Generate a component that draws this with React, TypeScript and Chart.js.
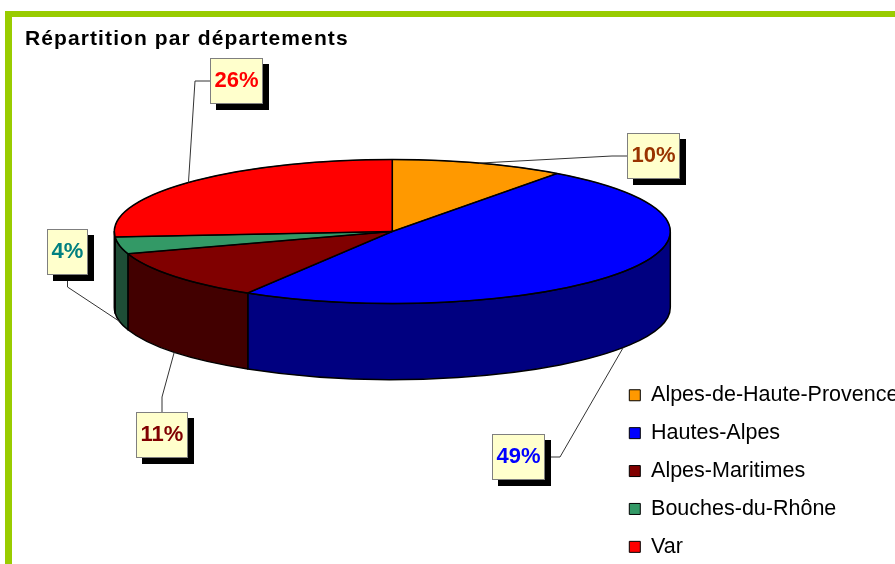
import React, { useEffect, useRef } from 'react';
import { Chart, registerables } from 'chart.js';

Chart.register(...registerables);

// ---- data ----
const categories = ['Alpes-de-Haute-Provence', 'Hautes-Alpes', 'Alpes-Maritimes', 'Bouches-du-Rhône', 'Var'];
const shares = [10.1, 48.6, 11.3, 3.8, 26.2];
const chartTitle = 'Répartition par départements';

// ---- styles ----
const topColors = ['#FF9900', '#0000FF', '#800000', '#339966', '#FF0000'];
const sideColors = ['#995C00', '#000080', '#420000', '#1E4D36', '#990000'];
const labelColors = ['#993300', '#0000FF', '#800000', '#008080', '#FF0000'];
// label box centre offset from its slice anchor, and side of the box the leader line leaves from
const labelOffsets = [[174, -7], [-105, 109], [-12, 83], [-52, -69], [48, -102]];
const leaderSides = ['left', 'right', 'top', 'bottom', 'left'];

const FONT = '"Liberation Sans", Arial, Helvetica, sans-serif';
const TILT = 72 / 278;
const DEPTH = 76;
const CANVAS_TOP = -111;
const CANVAS_W = 895;
const CANVAS_H = 685;

const pie3d = {
  id: 'pie3d',
  beforeDatasetsDraw(chart: any) {
    const meta = chart.getDatasetMeta(0);
    const arcs = meta.data;
    const ctx = chart.ctx;
    chart.$pie3dSaved = false;
    if (!arcs.length) return;
    const cx = arcs[0].x, cy = arcs[0].y, r = arcs[0].outerRadius;
    const ry = r * TILT;
    ctx.save();
    ctx.lineWidth = 1.5;
    ctx.strokeStyle = '#000';
    ctx.lineJoin = 'round';
    arcs.forEach((arc: any, i: number) => {
      const a = Math.max(arc.startAngle, 0);
      const b = Math.min(arc.endAngle, Math.PI);
      if (b <= a) return;
      ctx.beginPath();
      ctx.ellipse(cx, cy, r, ry, 0, a, b, false);
      ctx.ellipse(cx, cy + DEPTH, r, ry, 0, b, a, true);
      ctx.closePath();
      ctx.fillStyle = sideColors[i];
      ctx.fill();
      ctx.stroke();
    });
    ctx.restore();
    ctx.save();
    ctx.translate(cx, cy);
    ctx.scale(1, TILT);
    ctx.translate(-cx, -cy);
    chart.$pie3dSaved = true;
  },
  afterDatasetsDraw(chart: any) {
    const ctx = chart.ctx;
    if (chart.$pie3dSaved) ctx.restore();
    const meta = chart.getDatasetMeta(0);
    const arcs = meta.data;
    if (!arcs.length) return;
    const cx = arcs[0].x, cy = arcs[0].y, r = arcs[0].outerRadius;
    const ry = r * TILT;
    const values = chart.data.datasets[0].data as number[];
    const total = values.reduce((s, v) => s + v, 0);

    // outlines of the top face
    ctx.save();
    ctx.lineWidth = 1.5;
    ctx.strokeStyle = '#000';
    ctx.lineJoin = 'round';
    ctx.beginPath();
    ctx.ellipse(cx, cy, r, ry, 0, 0, Math.PI * 2);
    ctx.stroke();
    arcs.forEach((arc: any) => {
      ctx.beginPath();
      ctx.moveTo(cx, cy);
      ctx.lineTo(cx + r * Math.cos(arc.startAngle), cy + ry * Math.sin(arc.startAngle));
      ctx.stroke();
    });
    ctx.restore();

    // percentage labels
    ctx.save();
    ctx.font = `bold 22px ${FONT}`;
    arcs.forEach((arc: any, i: number) => {
      const mid = (arc.startAngle + arc.endAngle) / 2;
      const front = Math.sin(mid) > 0;
      const ax = cx + r * Math.cos(mid);
      const ay = cy + ry * Math.sin(mid) + (front ? DEPTH : 0);
      const text = Math.round((values[i] / total) * 100) + '%';
      const tw = ctx.measureText(text).width;
      const w = Math.round(tw + 9);
      const h = 46;
      const bx = Math.round(ax + labelOffsets[i][0] - w / 2);
      const by = Math.round(ay + labelOffsets[i][1] - h / 2);
      let px = 0, py = 0, ex = 0, ey = 0;
      switch (leaderSides[i]) {
        case 'left': px = bx; py = by + h / 2; ex = px - 15; ey = py; break;
        case 'right': px = bx + w; py = by + h / 2; ex = px + 15; ey = py; break;
        case 'top': px = bx + w / 2; py = by; ex = px; ey = py - 15; break;
        default: px = bx + w / 2; py = by + h; ex = px; ey = py + 12;
      }
      ctx.beginPath();
      ctx.moveTo(px, py);
      ctx.lineTo(ex, ey);
      ctx.lineTo(ax, ay);
      ctx.strokeStyle = '#333';
      ctx.lineWidth = 1;
      ctx.stroke();
      ctx.fillStyle = '#000';
      ctx.fillRect(bx + 6, by + 6, w, h);
      ctx.fillStyle = '#FFFFCC';
      ctx.fillRect(bx, by, w, h);
      ctx.strokeStyle = '#7F7F7F';
      ctx.strokeRect(bx + 0.5, by + 0.5, w - 1, h - 1);
      ctx.fillStyle = labelColors[i];
      ctx.textAlign = 'center';
      ctx.textBaseline = 'alphabetic';
      ctx.fillText(text, bx + w / 2, by + h / 2 + 6);
    });
    ctx.restore();
  },
  afterDraw(chart: any) {
    const ctx = chart.ctx;
    ctx.save();
    ctx.font = `bold 21px ${FONT}`;
    try { (ctx as any).letterSpacing = '1.1px'; } catch (e) { /* ignore */ }
    ctx.fillStyle = '#000';
    ctx.textAlign = 'left';
    ctx.textBaseline = 'alphabetic';
    ctx.fillText(chartTitle, 25, 45 - CANVAS_TOP);
    try { (ctx as any).letterSpacing = '0px'; } catch (e) { /* ignore */ }
    ctx.restore();
  },
};

export default function App() {
  const ref = useRef<HTMLCanvasElement | null>(null);

  useEffect(() => {
    if (!ref.current) return;
    const chart = new Chart(ref.current, {
      type: 'pie',
      data: {
        labels: categories,
        datasets: [
          {
            data: shares,
            backgroundColor: topColors,
            borderColor: '#000',
            borderWidth: 1,
            clip: false,
          } as any,
        ],
      },
      options: {
        responsive: false,
        animation: false,
        events: [],
        radius: 278,
        layout: { padding: { left: 171.7, right: 0, top: 0, bottom: 0 } },
        plugins: {
          title: { display: false },
          tooltip: { enabled: false },
          legend: {
            position: 'right',
            align: 'end',
            maxWidth: 282.1,
            labels: {
              boxWidth: 11,
              boxHeight: 11,
              padding: 16.4,
              color: '#000',
              font: { family: FONT, size: 21.5 },
            },
          },
        },
      } as any,
      plugins: [pie3d as any],
    });
    return () => chart.destroy();
  }, []);

  return (
    <div style={{ position: 'fixed', left: 0, top: 0, width: 895, height: 564, overflow: 'hidden', background: '#fff' }}>
      <div
        style={{
          position: 'absolute',
          left: 5,
          top: 11,
          width: 2000,
          height: 2000,
          borderLeft: '7px solid #99CC00',
          borderTop: '6px solid #99CC00',
        }}
      />
      <canvas
        ref={ref}
        width={CANVAS_W}
        height={CANVAS_H}
        style={{ position: 'absolute', left: 0, top: CANVAS_TOP, width: CANVAS_W, height: CANVAS_H }}
      />
    </div>
  );
}
